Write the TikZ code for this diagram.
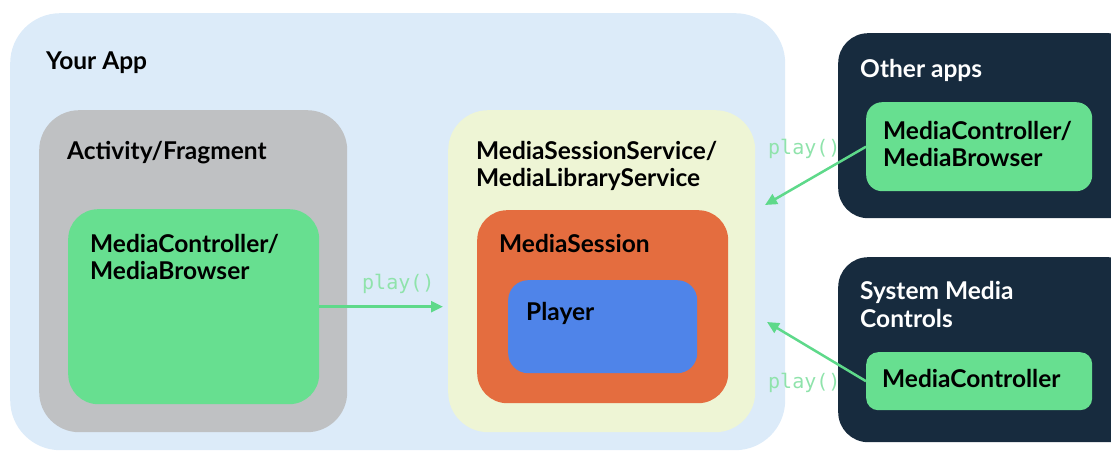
\documentclass[tikz,border=0pt]{standalone}
\usepackage{fontspec}
\setmainfont{Lato}
\setmonofont{DejaVu Sans Mono}
\usetikzlibrary{arrows.meta}
\definecolor{appbg}{HTML}{DCEBF9}
\definecolor{actgray}{HTML}{BFC1C3}
\definecolor{ctrlgreen}{HTML}{67DF90}
\definecolor{svcyellow}{HTML}{EEF5D5}
\definecolor{sessorange}{HTML}{E46D3F}
\definecolor{playerblue}{HTML}{4F84E9}
\definecolor{navy}{HTML}{172B3E}
\definecolor{arrowgreen}{HTML}{5ED98A}
\definecolor{labelgreen}{HTML}{8FE3AB}
\tikzset{
  box/.style={anchor=north west, inner sep=0pt, draw=none},
  title/.style={anchor=base west, inner sep=0pt, font=\fontsize{24.5}{28}\selectfont\bfseries, text=black},
  wtitle/.style={title, text=white},
  call/.style={anchor=base west, inner sep=0pt, font=\fontsize{20}{23}\selectfont\ttfamily, text=labelgreen},
  conn/.style={draw=arrowgreen, line width=2.5pt, -{Triangle[length=12pt,width=11pt]}}
}
\begin{document}
\begin{tikzpicture}[x=1pt,y=-1pt]
\useasboundingbox (0,0) rectangle (1111,454);
% your app
\node[box, fill=appbg, rounded corners=50pt, minimum width=775pt, minimum height=437pt] (app) at (10,13) {};
\node[title] (appt) at (46,70) {Your App};
% activity
\node[box, fill=actgray, rounded corners=40pt, minimum width=308pt, minimum height=322pt] (act) at (39,110) {};
\node[title] (actt) at (67,160) {Activity/Fragment};
\node[box, fill=ctrlgreen, rounded corners=30pt, minimum width=251pt, minimum height=195pt] (lgreen) at (68,209) {};
\node[title] (lg1) at (90,253) {MediaController/};
\node[title] (lg2) at (90,280) {MediaBrowser};
% service
\node[box, fill=svcyellow, rounded corners=40pt, minimum width=307pt, minimum height=322pt] (svc) at (448,110) {};
\node[title] (svc1) at (476,160) {MediaSessionService/};
\node[title] (svc2) at (476,187) {MediaLibraryService};
\node[box, fill=sessorange, rounded corners=30pt, minimum width=251pt, minimum height=193pt] (sess) at (477,210) {};
\node[title] (sesst) at (499,253) {MediaSession};
\node[box, fill=playerblue, rounded corners=20pt, minimum width=189pt, minimum height=93pt] (player) at (508,280) {};
\node[title] (playert) at (526,320) {Player};
% other apps
\node[box, fill=navy, rounded corners=30pt, minimum width=300pt, minimum height=185pt] (other) at (838,33) {};
\node[wtitle] (othert) at (860,78) {Other apps};
\node[box, fill=ctrlgreen, rounded corners=16pt, minimum width=226pt, minimum height=89pt] (ogreen) at (866,102) {};
\node[title] (og1) at (883,140) {MediaController/};
\node[title] (og2) at (883,167) {MediaBrowser};
% system media controls
\node[box, fill=navy, rounded corners=30pt, minimum width=300pt, minimum height=185pt] (sys) at (838,257) {};
\node[wtitle] (sys1) at (860,300) {System Media};
\node[wtitle] (sys2) at (860,327) {Controls};
\node[box, fill=ctrlgreen, rounded corners=12pt, minimum width=226pt, minimum height=58pt] (sgreen) at (866,352) {};
\node[title] (sgt) at (882,387) {MediaController};
% connectors
\coordinate (in1) at (765,205);
\coordinate (in2) at (767,322);
\draw[conn] (lgreen.east) -- ([xshift=-5pt]svc.west |- lgreen.east);
\draw[conn] (ogreen.west) -- (in1);
\draw[conn] (sgreen.west) -- (in2);
\node[call] (c1) at (362,290) {play()};
\node[call] (c2) at (768,155) {play()};
\node[call] (c3) at (768,388) {play()};
\end{tikzpicture}
\end{document}
